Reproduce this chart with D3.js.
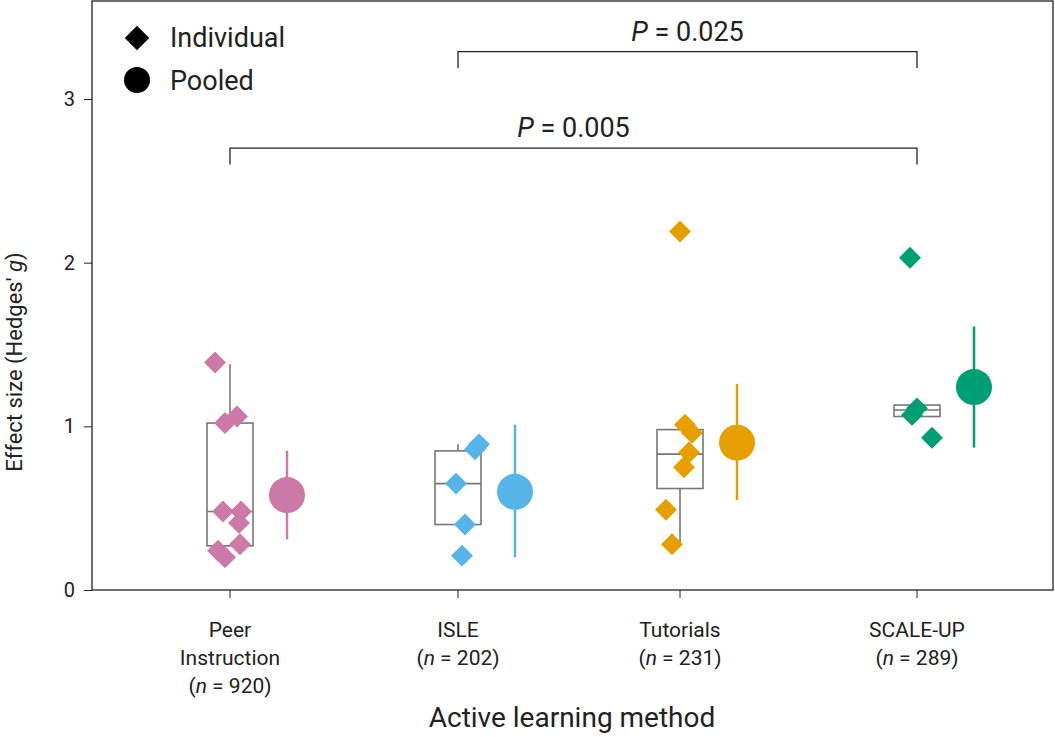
<!DOCTYPE html>
<html><head><meta charset="utf-8">
<script src="https://cdn.jsdelivr.net/npm/d3@7"></script>
<style>body{margin:0;background:#fff}text{font-family:Roboto,"Noto Sans",sans-serif;fill:#222}</style>
</head><body><svg id="c" width="1055" height="737"></svg>
<script>
const categories = ["Peer Instruction", "ISLE", "Tutorials", "SCALE-UP"];
const nLabels = [920, 202, 231, 289];
const colors = ["#cc79a7", "#56b4e9", "#e69f00", "#009e73"];
// individual study effect sizes with small horizontal jitter offsets (px)
const individual = [
  [[-15,1.39],[-5,1.02],[7,1.06],[-7,0.48],[11,0.48],[9,0.41],[10,0.28],[-12,0.24],[-5,0.20]],
  [[-2,0.65],[21,0.89],[17,0.86],[7,0.40],[4,0.21]],
  [[0,2.19],[5,1.01],[12,0.96],[9,0.84],[4,0.75],[-14,0.49],[-8,0.28]],
  [[-7,2.03],[0,1.11],[-5,1.07],[15,0.93]]
];
// box stats: whisker low, q1, median, q3, whisker high
const boxes = [
  [0.27, 0.27, 0.48, 1.02, 1.38],
  [0.40, 0.40, 0.65, 0.85, 0.89],
  [0.28, 0.62, 0.83, 0.98, 0.98],
  [1.06, 1.06, 1.10, 1.13, 1.13]
];
const pooled = [[0.58,0.31,0.85],[0.60,0.20,1.01],[0.90,0.55,1.26],[1.24,0.87,1.61]];
const brackets = [{a:0,b:3,y:2.7,label:"0.005"},{a:1,b:3,y:3.29,label:"0.025"}];
const yTicks = [0,1,2,3];

const svg = d3.select("#c");
const L=92, R=1053, T=1, B=590;
const x = d3.scaleOrdinal().domain(categories).range([230,458,680,917]);
const y = d3.scaleLinear().domain([0,3]).range([590,99]);

svg.append("rect").attr("x",L).attr("y",T).attr("width",R-L).attr("height",B-T)
  .attr("fill","none").attr("stroke","#222").attr("stroke-width",1.3);

const yAxis = svg.append("g").attr("transform",`translate(${L},0)`)
  .call(d3.axisLeft(y).tickValues(yTicks).tickFormat(d3.format("d")).tickSize(8).tickSizeOuter(0));
yAxis.select(".domain").remove();
yAxis.selectAll("text").attr("font-size",20).attr("dx",-6);
yAxis.selectAll("line").attr("stroke","#222");

const xAxis = svg.append("g").attr("transform",`translate(0,${B})`);
xAxis.selectAll("line").data(categories).join("line")
  .attr("x1",d=>x(d)).attr("x2",d=>x(d)).attr("y1",0).attr("y2",8).attr("stroke","#222");

categories.forEach((c,i)=>{
  const t = svg.append("text").attr("x",x(c)).attr("text-anchor","middle").attr("font-size",21);
  let lines = c==="Peer Instruction" ? ["Peer","Instruction"] : [c];
  lines.forEach((s,k)=>t.append("tspan").attr("x",x(c)).attr("y",637+k*28).text(s));
  const nt = svg.append("text").attr("x",x(c)).attr("y",637+lines.length*28)
    .attr("text-anchor","middle").attr("font-size",21);
  nt.append("tspan").text("(");
  nt.append("tspan").attr("font-style","italic").text("n");
  nt.append("tspan").text(` = ${nLabels[i]})`);
});

svg.append("text").attr("x",572).attr("y",727).attr("text-anchor","middle").attr("font-size",28)
  .text("Active learning method");
const yl = svg.append("text").attr("transform",`translate(22,362) rotate(-90)`)
  .attr("text-anchor","middle").attr("font-size",22);
yl.append("tspan").text("Effect size (Hedges' ");
yl.append("tspan").attr("font-style","italic").text("g");
yl.append("tspan").text(")");

// boxes
categories.forEach((c,i)=>{
  const cx = x(c), b = boxes[i], w = 23;
  const g = svg.append("g").attr("stroke","#777").attr("stroke-width",1.6).attr("fill","none");
  g.append("line").attr("x1",cx).attr("x2",cx).attr("y1",y(b[0])).attr("y2",y(b[1]));
  g.append("line").attr("x1",cx).attr("x2",cx).attr("y1",y(b[3])).attr("y2",y(b[4]));
  g.append("rect").attr("x",cx-w).attr("width",2*w).attr("y",y(b[3])).attr("height",y(b[1])-y(b[3]));
  g.append("line").attr("x1",cx-w).attr("x2",cx+w).attr("y1",y(b[2])).attr("y2",y(b[2]));
});

const diamond = d3.symbol().type(d3.symbolSquare).size(240);
categories.forEach((c,i)=>{
  svg.append("g").selectAll("path").data(individual[i]).join("path")
    .attr("d",diamond).attr("fill",colors[i])
    .attr("transform",d=>`translate(${x(c)+d[0]},${y(d[1])}) rotate(45)`);
  const px = x(c)+57, p = pooled[i];
  svg.append("line").attr("x1",px).attr("x2",px).attr("y1",y(p[1])).attr("y2",y(p[2]))
    .attr("stroke",colors[i]).attr("stroke-width",2.5);
  svg.append("circle").attr("cx",px).attr("cy",y(p[0])).attr("r",18).attr("fill",colors[i]);
});

brackets.forEach(br=>{
  const x1=x(categories[br.a]), x2=x(categories[br.b]), yy=y(br.y), y2=y(br.y-0.1);
  svg.append("path").attr("d",`M${x1},${y2}V${yy}H${x2}V${y2}`)
    .attr("fill","none").attr("stroke","#222").attr("stroke-width",1.3);
  const t = svg.append("text").attr("x",(x1+x2)/2).attr("y",yy-11).attr("text-anchor","middle").attr("font-size",27);
  t.append("tspan").attr("font-style","italic").text("P");
  t.append("tspan").text(` = ${br.label}`);
});

// legend
svg.append("path").attr("d",d3.symbol().type(d3.symbolSquare).size(300))
  .attr("transform","translate(137,38) rotate(45)").attr("fill","#000");
svg.append("circle").attr("cx",137).attr("cy",80).attr("r",13).attr("fill","#000");
svg.append("text").attr("x",170).attr("y",47).attr("font-size",27).text("Individual");
svg.append("text").attr("x",170).attr("y",90).attr("font-size",27).text("Pooled");
</script></body></html>
